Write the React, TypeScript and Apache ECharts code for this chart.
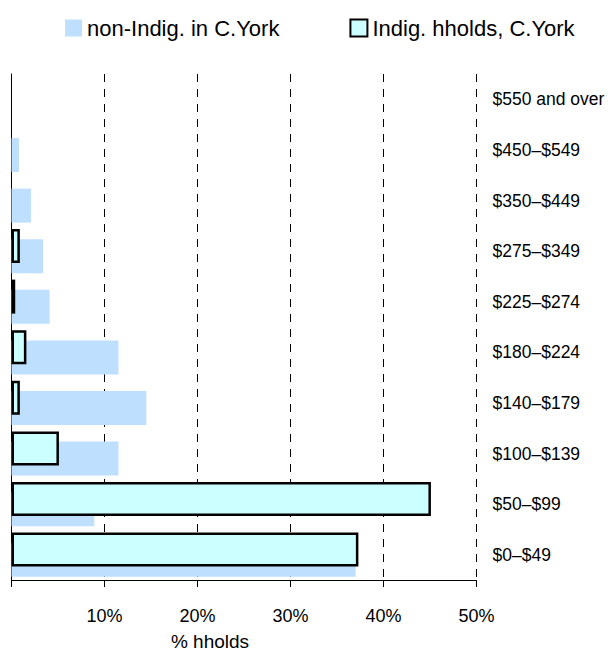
import React, { useEffect, useRef } from "react";
import * as echarts from "echarts";

const categories = [
  "$0–$49",
  "$50–$99",
  "$100–$139",
  "$140–$179",
  "$180–$224",
  "$225–$274",
  "$275–$349",
  "$350–$449",
  "$450–$549",
  "$550 and over",
];
const nonIndig = [37.0, 8.9, 11.5, 14.5, 11.5, 4.1, 3.4, 2.1, 0.8, 0];
const indig = [37.3, 45.1, 5.1, 0.9, 1.6, 0.4, 0.9, 0, 0, 0];
const xTicks = [0, 10, 20, 30, 40, 50];

const FONT = "'Liberation Sans', Arial, Helvetica, sans-serif";

const hideZero = (arr: number[]) => arr.map((v) => (v === 0 ? null : v));

export default function App() {
  const ref = useRef<HTMLDivElement>(null);
  useEffect(() => {
    if (!ref.current) return;
    const chart = echarts.init(ref.current, null, { renderer: "svg" });
    chart.setOption({
      animation: false,
      backgroundColor: "#ffffff",
      textStyle: { fontFamily: FONT },
      legend: {
        left: 65,
        top: 17,
        padding: 0,
        itemWidth: 17,
        itemHeight: 17,
        itemGap: 70,
        icon: "rect",
        textStyle: { fontSize: 22, color: "#000", fontFamily: FONT },
        data: ["non-Indig. in C.York", "Indig. hholds, C.York"],
      },
      grid: {
        left: 11.5,
        right: 131.5,
        top: 74,
        bottom: 72,
        containLabel: false,
        outerBoundsMode: "none",
      },
      xAxis: {
        type: "value",
        min: xTicks[0],
        max: xTicks[xTicks.length - 1],
        interval: 10,
        name: "% hholds",
        nameLocation: "middle",
        nameGap: 52,
        nameTextStyle: {
          fontSize: 19,
          color: "#000",
          fontFamily: FONT,
          padding: [0, 68, 0, 0],
        },
        axisLine: { show: true, lineStyle: { color: "#000", width: 1 } },
        axisTick: { show: true, length: 7, lineStyle: { color: "#000" } },
        axisLabel: {
          fontSize: 18,
          color: "#000",
          margin: 27,
          fontFamily: FONT,
          formatter: (v: number) => (v === 0 ? "" : v + "%"),
        },
        splitLine: {
          show: true,
          lineStyle: { color: "#000", type: [8, 7], width: 1 },
        },
      },
      yAxis: [
        {
          type: "category",
          data: categories,
          position: "left",
          axisLine: { show: true, onZero: false, lineStyle: { color: "#000", width: 1 } },
          axisTick: { show: false },
          axisLabel: { show: false },
          splitLine: { show: false },
        },
        {
          type: "category",
          data: categories,
          position: "right",
          axisLine: { show: false },
          axisTick: { show: false },
          axisLabel: { fontSize: 17.5, color: "#000", margin: 16, fontFamily: FONT },
          splitLine: { show: false },
        },
      ],
      series: [
        {
          name: "Indig. hholds, C.York",
          type: "bar",
          yAxisIndex: 0,
          data: hideZero(indig),
          barWidth: 34,
          barGap: "-70%",
          z: 3,
          itemStyle: { color: "#CCFFFF", borderColor: "#000", borderWidth: 2.5 },
        },
        {
          name: "non-Indig. in C.York",
          type: "bar",
          yAxisIndex: 0,
          data: hideZero(nonIndig),
          barWidth: 34,
          barGap: "-70%",
          z: 2,
          itemStyle: { color: "#BFDFFF" },
        },
      ],
    });
    return () => chart.dispose();
  }, []);
  return (
    <div
      ref={ref}
      style={{ position: "fixed", left: 0, top: 0, width: 608, height: 652 }}
    />
  );
}
